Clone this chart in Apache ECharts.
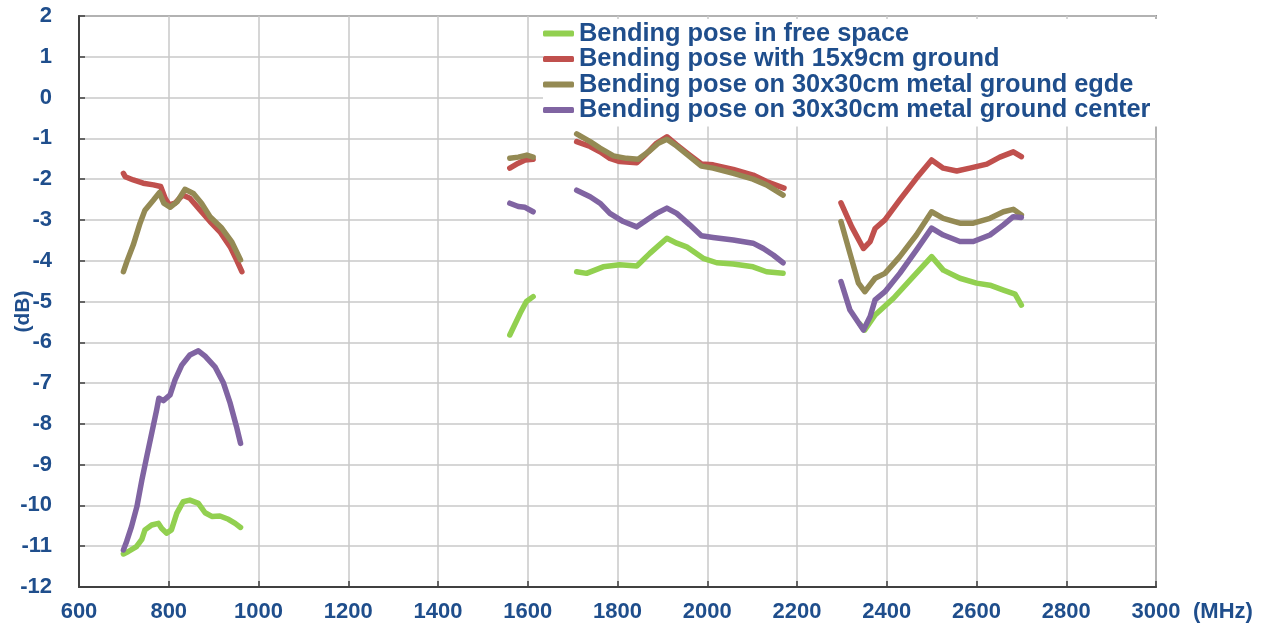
<!DOCTYPE html>
<html>
<head>
<meta charset="utf-8">
<script src="https://cdn.jsdelivr.net/npm/echarts@6/dist/echarts.min.js"></script>
<style>
  html, body { margin: 0; padding: 0; background: #fff; }
  #chart { width: 1275px; height: 627px; }
</style>
</head>
<body>
<div id="chart"></div>
<script>
// ---- data (MHz, dB); null marks a gap between measured bands ----
const seriesNames = [
  'Bending pose in free space',
  'Bending pose with 15x9cm ground',
  'Bending pose on 30x30cm metal ground egde',
  'Bending pose on 30x30cm metal ground center'
];
const seriesColors = ['#92D050', '#C0504D', '#948A54', '#8064A2'];

const freeSpace = [
  [699,-11.19],[710,-11.13],[728,-11.01],[740,-10.83],[747,-10.60],[762,-10.48],[777,-10.44],[784,-10.56],
  [795,-10.68],[806,-10.60],[818,-10.19],[832,-9.91],[847,-9.87],[866,-9.95],[881,-10.18],[896,-10.27],
  [914,-10.26],[933,-10.34],[948,-10.44],[960,-10.54],
  null,
  [1560,-5.82],[1583,-5.29],[1597,-5.00],[1612,-4.88],
  null,
  [1709,-4.27],[1731,-4.31],[1768,-4.15],[1805,-4.10],[1843,-4.13],[1872,-3.82],[1910,-3.45],[1932,-3.57],
  [1954,-3.66],[1991,-3.94],[2021,-4.05],[2058,-4.08],[2102,-4.15],[2132,-4.27],[2169,-4.31],
  null,
  [2340,-5.55],[2351,-5.70],[2374,-5.33],[2415,-4.92],[2459,-4.39],[2500,-3.90],[2526,-4.23],[2563,-4.43],
  [2600,-4.55],[2630,-4.60],[2660,-4.72],[2686,-4.82],[2700,-5.09]
];

const ground15x9 = [
  [699,-1.86],[703,-1.94],[721,-2.02],[743,-2.10],[766,-2.14],[782,-2.18],[792,-2.47],[801,-2.63],
  [814,-2.59],[831,-2.39],[847,-2.47],[870,-2.76],[892,-3.04],[914,-3.29],[937,-3.66],[951,-3.98],[963,-4.27],
  null,
  [1560,-1.73],[1579,-1.61],[1594,-1.53],[1612,-1.51],
  null,
  [1709,-1.08],[1739,-1.20],[1761,-1.33],[1783,-1.49],[1805,-1.57],[1843,-1.60],[1865,-1.37],[1887,-1.12],
  [1910,-0.96],[1932,-1.16],[1961,-1.41],[1987,-1.63],[2013,-1.65],[2058,-1.76],[2102,-1.90],[2132,-2.06],[2171,-2.22],
  null,
  [2298,-2.58],[2322,-3.17],[2348,-3.70],[2363,-3.53],[2374,-3.21],[2396,-3.00],[2429,-2.51],[2466,-1.98],
  [2500,-1.53],[2526,-1.73],[2556,-1.80],[2585,-1.73],[2623,-1.63],[2652,-1.46],[2682,-1.33],[2700,-1.45]
];

const metalEdge = [
  [699,-4.27],[708,-3.98],[721,-3.61],[736,-3.08],[747,-2.76],[766,-2.51],[779,-2.33],[789,-2.59],
  [803,-2.69],[819,-2.55],[836,-2.25],[855,-2.35],[873,-2.59],[892,-2.92],[918,-3.20],[940,-3.53],[960,-3.98],
  null,
  [1560,-1.49],[1579,-1.46],[1598,-1.41],[1612,-1.46],
  null,
  [1709,-0.89],[1739,-1.08],[1761,-1.24],[1791,-1.43],[1820,-1.49],[1846,-1.51],[1869,-1.33],[1891,-1.12],
  [1910,-1.02],[1932,-1.19],[1961,-1.45],[1987,-1.68],[2013,-1.73],[2058,-1.86],[2102,-2.00],[2132,-2.14],[2169,-2.39],
  null,
  [2298,-3.04],[2318,-3.82],[2337,-4.55],[2351,-4.76],[2374,-4.43],[2396,-4.31],[2429,-3.90],[2466,-3.37],
  [2500,-2.80],[2526,-2.96],[2563,-3.08],[2593,-3.08],[2630,-2.96],[2660,-2.80],[2682,-2.74],[2700,-2.88]
];

const metalCenter = [
  [699,-11.09],[706,-10.89],[717,-10.52],[729,-10.03],[740,-9.38],[751,-8.80],[762,-8.23],[773,-7.66],
  [778,-7.37],[788,-7.43],[803,-7.29],[814,-6.92],[829,-6.56],[847,-6.31],[866,-6.21],[881,-6.34],
  [903,-6.60],[922,-7.00],[937,-7.50],[951,-8.07],[960,-8.48],
  null,
  [1560,-2.59],[1579,-2.67],[1594,-2.69],[1612,-2.80],
  null,
  [1709,-2.27],[1739,-2.43],[1761,-2.59],[1783,-2.84],[1813,-3.04],[1843,-3.17],[1865,-3.00],[1887,-2.84],
  [1910,-2.71],[1932,-2.84],[1961,-3.12],[1987,-3.39],[2013,-3.43],[2058,-3.49],[2102,-3.57],[2125,-3.70],
  [2147,-3.86],[2169,-4.05],
  null,
  [2298,-4.51],[2318,-5.21],[2348,-5.70],[2363,-5.37],[2374,-4.96],[2396,-4.76],[2429,-4.31],[2466,-3.74],
  [2500,-3.20],[2526,-3.37],[2563,-3.53],[2593,-3.53],[2630,-3.37],[2660,-3.12],[2682,-2.92],[2700,-2.94]
];

const curves = [freeSpace, ground15x9, metalEdge, metalCenter];

const xTickMin = 600, xTickMax = 3000, xTickStep = 200;
const yTickMin = -12, yTickMax = 2, yTickStep = 1;

// ---- chart ----
const textBlue = '#1F4E8C';
const fontFam = '"Liberation Sans", Arial, sans-serif';
const chart = echarts.init(document.getElementById('chart'), null, { renderer: 'canvas' });

const series = curves.map((pts, i) => ({
  name: seriesNames[i],
  type: 'line',
  showSymbol: false,
  symbol: 'none',
  connectNulls: false,
  animation: false,
  lineStyle: { color: seriesColors[i], width: 5.5, cap: 'round', join: 'round' },
  itemStyle: { color: seriesColors[i] },
  data: pts.map(p => p === null ? [null, null] : p)
}));

chart.setOption({
  animation: false,
  backgroundColor: '#ffffff',
  grid: {
    left: 79, right: 119, top: 16, bottom: 40,
    containLabel: false,
    outerBoundsMode: 'none',
    show: true, borderColor: '#404040', borderWidth: 1.5, backgroundColor: 'transparent'
  },
  legend: {
    data: seriesNames,
    orient: 'vertical',
    left: 543, top: 19,
    padding: [2, 10, 4, 0],
    itemGap: 0.5,
    itemWidth: 31, itemHeight: 6,
    icon: 'roundRect',
    backgroundColor: '#ffffff',
    textStyle: { color: textBlue, fontSize: 25.4, fontWeight: 'bold', fontFamily: fontFam, lineHeight: 25 },
    selectedMode: false
  },
  xAxis: {
    type: 'value',
    min: xTickMin, max: xTickMax, interval: xTickStep,
    name: '(MHz)',
    nameLocation: 'end',
    nameGap: 37,
    nameMoveOverlap: false,
    nameTextStyle: { color: textBlue, fontSize: 22, fontWeight: 'bold', fontFamily: fontFam,
      align: 'left', verticalAlign: 'top', lineHeight: 22, padding: [14, 0, 0, 0] },
    axisLine: { show: true, onZero: false, lineStyle: { color: '#404040', width: 2 } },
    axisTick: { show: true, inside: true, length: 6, lineStyle: { color: '#404040', width: 1.5 } },
    axisLabel: { color: textBlue, fontSize: 22, fontWeight: 'bold', fontFamily: fontFam, margin: 14,
      formatter: v => String(v) },
    splitLine: { show: true, lineStyle: { color: '#C8C8C8', width: 1.5 } }
  },
  yAxis: {
    type: 'value',
    min: yTickMin, max: yTickMax, interval: yTickStep,
    name: '(dB)',
    nameLocation: 'middle',
    nameRotate: 90,
    nameGap: 45,
    nameMoveOverlap: false,
    nameTextStyle: { color: textBlue, fontSize: 21, fontWeight: 'bold', fontFamily: fontFam, padding: [0, 20, 0, 0] },
    axisLine: { show: true, onZero: false, lineStyle: { color: '#404040', width: 2 } },
    axisTick: { show: true, inside: true, length: 6, lineStyle: { color: '#404040', width: 1.5 } },
    axisLabel: { color: textBlue, fontSize: 22, fontWeight: 'bold', fontFamily: fontFam, margin: 27,
      formatter: v => String(v) },
    splitLine: { show: true, lineStyle: { color: '#C8C8C8', width: 1.5 } }
  },
  series: series
});
</script>
</body>
</html>
